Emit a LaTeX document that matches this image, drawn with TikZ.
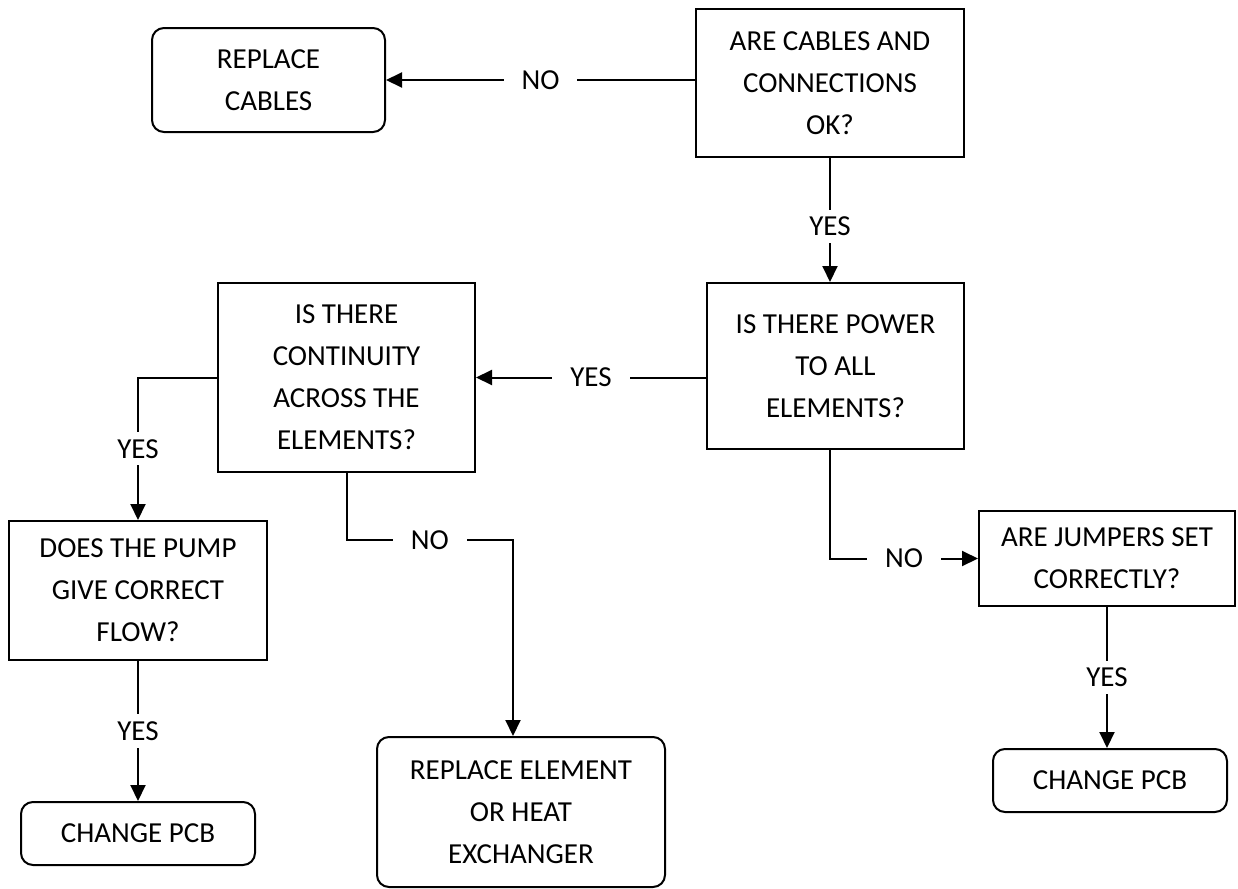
\documentclass[tikz,border=0pt]{standalone}
\usepackage{fontspec}
\setmainfont{Carlito}
\usetikzlibrary{arrows.meta}

\tikzset{
    qbox/.style={draw, line width=1pt, align=center, inner sep=0pt, font=\fontsize{14.5}{21}\selectfont},
    endbox/.style={qbox, rounded corners=6pt},
    lbl/.style={fill=white, inner xsep=9pt, inner ysep=3.5pt, font=\fontsize{14.5}{21}\selectfont},
    arr/.style={line width=1pt, -{Triangle[length=8pt,width=7.5pt]}}
}

\begin{document}
\begin{tikzpicture}[x=0.5pt, y=-0.5pt]
            % поле
            \fill [white] ( 0, 0 ) rectangle ( 1238, 889 );
            \useasboundingbox ( 0, 0 ) rectangle ( 1238, 889 );

            % вопросы
            \node [qbox, minimum width=134pt, minimum height=74pt] (qcab) at ( 830, 83 ) {ARE CABLES AND\\CONNECTIONS\\OK?};
            \node [qbox, minimum width=128.5pt, minimum height=83pt] (qpow) at ( 835.5, 366 ) {IS THERE POWER\\TO ALL\\ELEMENTS?};
            \node [qbox, minimum width=128.5pt, minimum height=94.5pt] (qcont) at ( 346.5, 377.5 ) {IS THERE\\CONTINUITY\\ACROSS THE\\ELEMENTS?};
            \node [qbox, minimum width=129pt, minimum height=69.5pt] (qpump) at ( 138, 590.5 ) {DOES THE PUMP\\GIVE CORRECT\\FLOW?};
            \node [qbox, minimum width=128pt, minimum height=47.5pt] (qjump) at ( 1107, 558.5 ) {ARE JUMPERS SET\\CORRECTLY?};

            % действия
            \node [endbox, minimum width=116.5pt, minimum height=52pt] (repcab) at ( 268.5, 80 ) {REPLACE\\CABLES};
            \node [endbox, minimum width=117pt, minimum height=31.5pt] (pcbl) at ( 138, 833.5 ) {CHANGE PCB};
            \node [endbox, minimum width=144pt, minimum height=75pt] (repel) at ( 521, 812 ) {REPLACE ELEMENT\\OR HEAT\\EXCHANGER};
            \node [endbox, minimum width=117pt, minimum height=31.5pt] (pcbr) at ( 1110, 780.5 ) {CHANGE PCB};

            % стрелки
            \draw [arr] (qcab.west |- repcab.east) -- (repcab.east) node [lbl, midway] {NO};
            \draw [arr] (qcab.south) -- (qcab.south |- qpow.north) node [lbl, pos=0.55] {YES};
            \draw [arr] (qpow.west |- qcont.east) -- (qcont.east) node [lbl, midway] {YES};
            \draw [arr] (qcont.west) -| node [lbl, pos=0.75] {YES} (qpump.north);
            \draw [arr] (qcont.south) -- ++( 0, 67 ) -| node [lbl, pos=0.25] {NO} ([xshift=-4pt]repel.north);
            \draw [arr] (qcab.south |- qpow.south) |- node [lbl, pos=0.75] {NO} (qjump.west);
            \draw [arr] (qjump.south) -- (qjump.south |- pcbr.north) node [lbl, midway] {YES};
            \draw [arr] (qpump.south) -- (pcbl.north) node [lbl, midway] {YES};
\end{tikzpicture}
\end{document}
